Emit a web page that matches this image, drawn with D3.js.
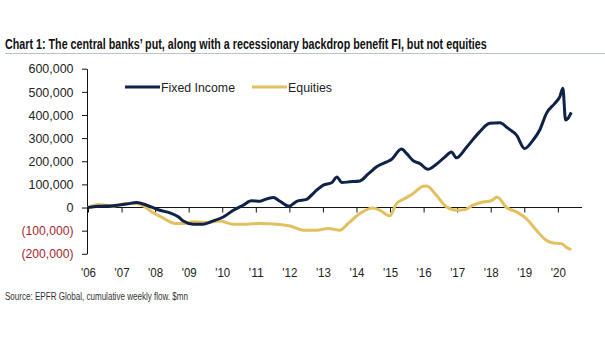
<!DOCTYPE html>
<html lang="en">
<head>
    <meta charset="UTF-8">
    <title>Chart 1: EPFR cumulative flows</title>
    <script src="https://d3js.org/d3.v7.min.js"></script>
    <style>
        body { margin: 0; background-color: white; }
        svg { display: block; }
        text { font-family: "Liberation Sans", Arial, sans-serif; }
        .axis path, .axis line { stroke: #111; stroke-width: 1; }
        .axis text { font-size: 13px; fill: #222; }
    </style>
</head>
<body>
    <svg id="chart"></svg>

    <script>
        const width = 605;
        const height = 341;

        // cumulative weekly flows, $mn (thousands on the axis), by decimal year
        const fiYears = [2006.00, 2006.30, 2006.74, 2007.15, 2007.45, 2007.75, 2008.14, 2008.44, 2008.69, 2008.84,
            2009.14, 2009.43, 2009.73, 2010.03, 2010.33, 2010.62, 2010.87, 2011.12, 2011.22, 2011.52,
            2011.72, 2011.99, 2012.22, 2012.51, 2012.76, 2013.01, 2013.26, 2013.42, 2013.56, 2013.80,
            2014.10, 2014.35, 2014.60, 2014.90, 2015.04, 2015.34, 2015.49, 2015.69, 2015.89, 2016.13,
            2016.38, 2016.63, 2016.83, 2016.98, 2017.28, 2017.67, 2017.97, 2018.27, 2018.52, 2018.77,
            2019.01, 2019.26, 2019.46, 2019.66, 2019.91, 2020.06, 2020.15, 2020.23, 2020.30, 2020.40];
        const fiValues = [0, 5, 8, 15, 22, 10, -12, -23, -40, -58,
            -72, -72, -58, -41, -12, 10, 29, 27, 32, 43,
            27, 6, 27, 35, 68, 97, 107, 132, 108, 111,
            115, 145, 176, 197, 208, 253, 234, 202, 190, 165,
            187, 218, 240, 215, 261, 327, 364, 366, 342, 313,
            255, 291, 335, 407, 450, 479, 515, 378, 385, 411];

        const eqYears = [2006.00, 2006.31, 2006.75, 2007.15, 2007.45, 2007.70, 2007.94, 2008.19, 2008.39, 2008.59,
            2008.84, 2009.14, 2009.53, 2009.93, 2010.33, 2010.73, 2011.12, 2011.62, 2012.02, 2012.41,
            2012.81, 2013.16, 2013.50, 2013.75, 2014.10, 2014.50, 2014.70, 2014.99, 2015.19, 2015.44,
            2015.69, 2015.99, 2016.09, 2016.38, 2016.68, 2016.98, 2017.23, 2017.47, 2017.77, 2018.02,
            2018.19, 2018.47, 2018.77, 2019.06, 2019.36, 2019.66, 2019.86, 2020.11, 2020.26, 2020.40];
        const eqValues = [0, 13, 6, 17, 17, 3, -23, -41, -58, -69,
            -69, -62, -65, -58, -72, -72, -69, -72, -80, -98,
            -98, -91, -98, -69, -26, -2, -12, -36, 17, 39,
            61, 92, 93, 53, 3, -12, -9, 10, 24, 29,
            46, 0, -19, -48, -98, -142, -153, -156, -173, -182];

        const yTicks = [-200, -100, 0, 100, 200, 300, 400, 500, 600];
        const yearTicks = d3.range(2006, 2021);

        const fiColor = "#0f2247";
        const eqColor = "#e2c060";

        const svg = d3.select("#chart")
            .attr("width", width)
            .attr("height", height);

        // title with its rule; the face is squeezed horizontally to fit 482px
        const title = svg.append("text")
            .attr("x", 0)
            .attr("y", 0)
            .attr("font-size", 14.5)
            .attr("font-weight", "bold")
            .attr("fill", "#111")
            .text("Chart 1: The central banks\u2019 put, along with a recessionary backdrop benefit FI, but not equities");

        const titleLen = title.node().getComputedTextLength();
        title.attr("transform", `translate(5,48.5) scale(${482 / titleLen},1)`);

        svg.append("line")
            .attr("x1", 5).attr("x2", 605)
            .attr("y1", 53.5).attr("y2", 53.5)
            .attr("stroke", "#b8c4cc")
            .attr("stroke-width", 1.2);

        const x = d3.scaleLinear().domain([2006, 2020.72]).range([88, 582]);
        const y = d3.scaleLinear().domain([-200, 600]).range([253.8, 68.7]);

        // y axis
        const yAxis = svg.append("g")
            .attr("class", "axis")
            .attr("transform", "translate(87,0)")
            .call(d3.axisLeft(y)
                .tickValues(yTicks)
                .tickSize(5)
                .tickSizeOuter(0)
                .tickPadding(8.5)
                .tickFormat(d => d < 0 ? "(" + d3.format(",")(-d * 1000) + ")" : d3.format(",")(d * 1000)));

        yAxis.selectAll("text")
            .style("fill", d => d < 0 ? "#a3282d" : "#222")
            .attr("textLength", d => d < 0 ? 52 : (d === 0 ? 7 : 45))
            .attr("lengthAdjust", "spacingAndGlyphs");

        // x axis along zero
        const xAxis = svg.append("g")
            .attr("class", "axis")
            .attr("transform", `translate(0,${y(0)})`)
            .call(d3.axisBottom(x)
                .tickValues(yearTicks)
                .tickSize(5)
                .tickSizeOuter(0)
                .tickFormat(d => "'" + String(d).slice(2)));

        xAxis.select(".domain").attr("d", `M87,0H${x(2020.72)}`);
        xAxis.selectAll("text")
            .attr("y", 268 - y(0))
            .attr("dy", "0.71em")
            .attr("font-size", 13.5)
            .attr("textLength", 15)
            .attr("lengthAdjust", "spacingAndGlyphs");

        // series lines
        const line = d3.line()
            .x(d => x(d[0]))
            .y(d => y(d[1]))
            .curve(d3.curveMonotoneX);

        svg.append("path")
            .datum(d3.zip(eqYears, eqValues))
            .attr("fill", "none")
            .attr("stroke", eqColor)
            .attr("stroke-width", 3)
            .attr("stroke-linejoin", "round")
            .attr("d", line);

        svg.append("path")
            .datum(d3.zip(fiYears, fiValues))
            .attr("fill", "none")
            .attr("stroke", fiColor)
            .attr("stroke-width", 3)
            .attr("stroke-linejoin", "round")
            .attr("d", line);

        // legend
        const legend = [
            { name: "Fixed Income", color: fiColor, x: 125, w: 74 },
            { name: "Equities", color: eqColor, x: 252, w: 44 }
        ];

        const item = svg.selectAll(".legend")
            .data(legend)
            .enter()
            .append("g")
            .attr("class", "legend")
            .attr("transform", d => `translate(${d.x},87)`);

        item.append("line")
            .attr("x1", 0).attr("x2", 35)
            .attr("stroke", d => d.color)
            .attr("stroke-width", 3);

        item.append("text")
            .attr("x", 36)
            .attr("dy", "0.36em")
            .attr("font-size", 13.5)
            .attr("fill", "#222")
            .attr("textLength", d => d.w)
            .attr("lengthAdjust", "spacingAndGlyphs")
            .text(d => d.name);

        // source note
        svg.append("text")
            .attr("x", 5)
            .attr("y", 300)
            .attr("font-size", 11.5)
            .attr("fill", "#333")
            .attr("textLength", 183)
            .attr("lengthAdjust", "spacingAndGlyphs")
            .text("Source: EPFR Global, cumulative weekly flow. $mn");
    </script>
</body>
</html>
